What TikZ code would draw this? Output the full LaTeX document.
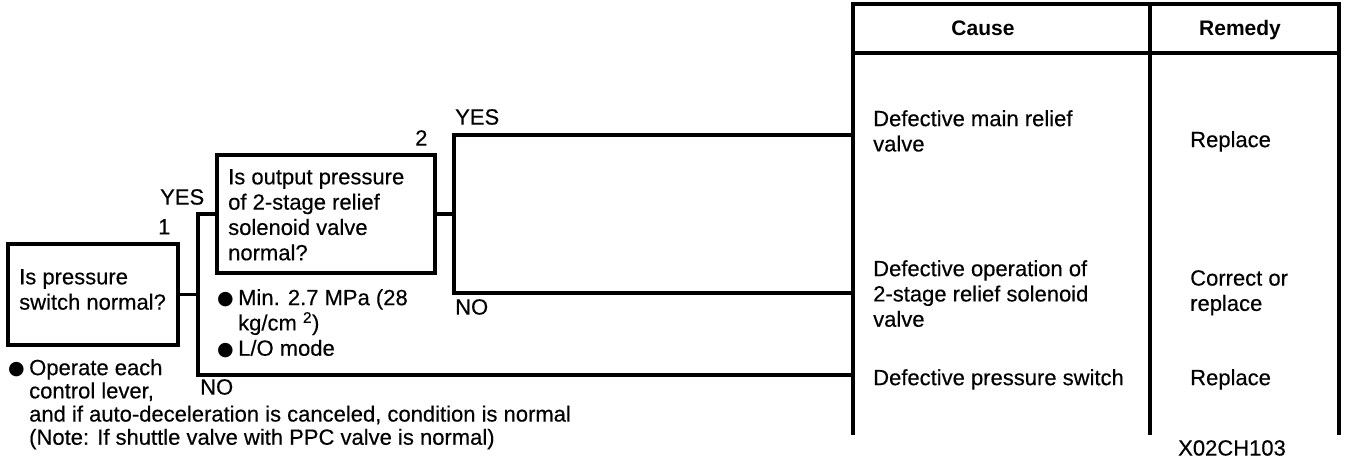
\documentclass[tikz,border=0pt]{standalone}
\usepackage{fontspec}
\setmainfont{Liberation Sans}[UprightFeatures={FakeBold=0.35}]
\newfontfamily\symf{DejaVu Sans}
\newcommand{\bul}{\makebox[21pt][l]{\raisebox{0.5pt}{\symf\fontsize{19}{19}\selectfont ●}}}
\begin{document}
\begin{tikzpicture}[x=1pt,y=-1pt,
  ln/.style={line width=3.2pt},
  box/.style={draw, line width=3.2pt, inner sep=0, outer sep=0, anchor=north west},
  txt/.style={font=\fontsize{22}{25.3}\selectfont, inner sep=0, align=left, anchor=north west},
  hd/.style={font=\bfseries\fontsize{21}{25}\selectfont, inner sep=0, anchor=base}]
\useasboundingbox (0,0) rectangle (1346,462);
% table
\coordinate (tTL) at (853,4);
\coordinate (tTM) at (1150,4);
\coordinate (tTR) at (1339,4);
\coordinate (tBL) at (853,435);
\coordinate (tBM) at (1150,435);
\coordinate (tBR) at (1339,435);
\coordinate (hL) at (853,53);
\coordinate (hR) at (1339,53);
\draw[ln] (tBL) -- (tTL) -- (tTR) -- (tBR);
\draw[ln] (tTM) -- (tBM);
\draw[ln] (hL) -- (hR);
\node[hd] (hc) at (983,36) {Cause};
\node[hd] (hr) at (1240,36) {Remedy};
% causes and remedies
\node[txt] (c1) at (873,110) {Defective main relief\\valve};
\node[txt] (r1) at (1190,131) {Replace};
\node[txt] (c2) at (873,260) {Defective operation of\\2-stage relief solenoid\\valve};
\node[txt] (r2) at (1190,270) {Correct or\\replace};
\node[txt] (c3) at (873,369) {Defective pressure switch};
\node[txt] (r3) at (1190,369) {Replace};
\node[txt] (code) at (1178,440) {X02CH103};
% question boxes
\node[box, minimum width=170pt, minimum height=101pt] (q1) at (8,244) {};
\node[txt] (q1t) at (19,269) {Is pressure\\switch normal?};
\node[box, minimum width=218pt, minimum height=118pt] (q2) at (217,155) {};
\node[txt] (q2t) at (228,169) {Is output pressure\\of 2-stage relief\\solenoid valve\\normal?};
% junctions and ends
\coordinate (x1) at (198,0);
\coordinate (x2) at (454,0);
\coordinate (j1) at (q1.east -| x1);
\coordinate (j2) at (q2.east -| x2);
\coordinate (e1) at (853,135);
\coordinate (e2) at (853,293);
\coordinate (e3) at (853,375);
\draw[ln] (q1.east) -- (j1);
\draw[ln] (j1) |- (q2.west);
\draw[ln] (j1) |- (e3);
\draw[ln] (q2.east) -- (j2);
\draw[ln] (j2) |- (e1);
\draw[ln] (j2) |- (e2);
% labels
\node[txt] (n2) at (415,130) {2};
\node[txt] (y2) at (455,109) {YES};
\node[txt] (no2) at (455,299) {NO};
\node[txt] (y1) at (160,189) {YES};
\node[txt] (n1) at (158,219) {1};
\node[txt] (no1) at (200,379) {NO};
\node[txt] (b2) at (217,289) {\bul Min. 2.7 MPa (28\\\hspace*{21pt}kg/cm \textsuperscript{2})\\\bul L/O mode};
\node[txt, font=\fontsize{22}{23.2}\selectfont] (b1) at (8,359) {\bul Operate each\\\hspace*{21pt}control lever,\\\hspace*{21pt}and if auto-deceleration is canceled, condition is normal\\\hspace*{21pt}(Note: If shuttle valve with PPC valve is normal)};
\end{tikzpicture}
\end{document}
